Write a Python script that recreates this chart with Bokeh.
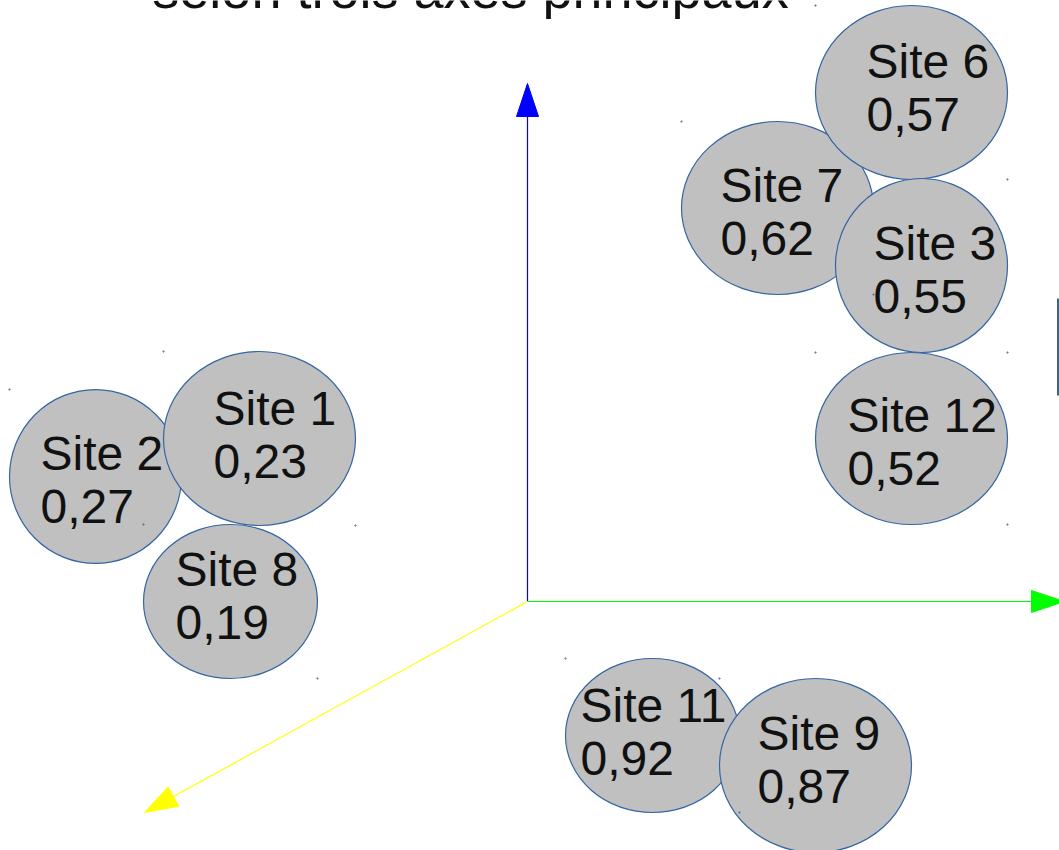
import numpy as np
from bokeh.plotting import figure
from bokeh.models import Range1d
from bokeh.core.properties import value
from bokeh.embed import file_html
from bokeh.resources import INLINE

# ---- data (diagram units = reference pixels) ----
title_text = "selon trois axes principaux"
sites = ["Site 7", "Site 6", "Site 3", "Site 12", "Site 2", "Site 1", "Site 8", "Site 11", "Site 9"]
scores = ["0,62", "0,57", "0,55", "0,52", "0,27", "0,23", "0,19", "0,92", "0,87"]
site_x = [777, 911, 921, 911, 95, 259, 230, 652, 815]
site_y = [207.5, 92, 265, 438, 476, 438, 601, 735, 765]
site_w = [192, 192, 172, 192, 172, 192, 174, 174, 192]
site_h = [173, 174, 174, 172, 174, 174, 154, 154, 174]
label_x = [720, 866, 873, 847, 40, 213, 175, 580, 757]
label_y = [203, 79, 261, 433, 471, 426, 587, 723, 751]

axis_origin = (527, 601)
axis_tip_x = [527, 1064, 144]
axis_tip_y = [83, 601, 812]
axis_colors = ["#0000ff", "#00ff00", "#ffff00"]

W, H = 1059, 850
p = figure(width=W, height=H, output_backend="svg", toolbar_location=None,
           x_range=Range1d(0, W), y_range=Range1d(H, 0),
           min_border=0, background_fill_color="white", border_fill_color="white")
p.axis.visible = False
p.grid.visible = False
p.outline_line_color = None

# title (cut off at top)
p.text(x=[470], y=[9], text=[title_text], text_font=value("Liberation Sans"),
       text_font_size="54px", text_color="#111111", text_align="center",
       text_baseline="alphabetic", y_offset=-21)

# axes
L, HW = 33.0, 11.0
for tx, ty, c in zip(axis_tip_x, axis_tip_y, axis_colors):
    ox, oy = axis_origin
    d = np.array([tx - ox, ty - oy], dtype=float)
    u = d / np.linalg.norm(d)
    perp = np.array([-u[1], u[0]])
    base = np.array([tx, ty]) - u * L
    p.line([ox, base[0]], [oy, base[1]], line_color=c, line_width=1.2)
    b1 = base + perp * HW
    b2 = base - perp * HW
    p.patch([tx, b1[0], b2[0]], [ty, b1[1], b2[1]], fill_color=c, line_color=c, line_width=1)

# edge marker at the right border
p.line([1057.5, 1057.5], [298, 395], line_color="#4a5f80", line_width=2)

# sites
p.ellipse(x=site_x, y=site_y, width=site_w, height=site_h,
          fill_color="#c0c0c0", line_color="#3465a4", line_width=1.2)

# tiny handle dots at bounding-box corners
dx = [x - w / 2 for x, w in zip(site_x, site_w)] + [x + w / 2 for x, w in zip(site_x, site_w)]
dy = [y - h / 2 for y, h in zip(site_y, site_h)] + [y + h / 2 for y, h in zip(site_y, site_h)]
p.scatter(dx, dy, size=1.5, color="#3465a4", alpha=0.6)

p.text(x=label_x, y=label_y, text=sites, text_font=value("Liberation Sans"),
       text_font_size="48px", text_color="#111111", text_baseline="alphabetic",
       y_offset=-18)
p.text(x=label_x, y=[v + 53 for v in label_y], text=scores, text_font=value("Liberation Sans"),
       text_font_size="48px", text_color="#111111", text_baseline="alphabetic",
       y_offset=-18)

open("out.html", "w").write(file_html(p, INLINE))
